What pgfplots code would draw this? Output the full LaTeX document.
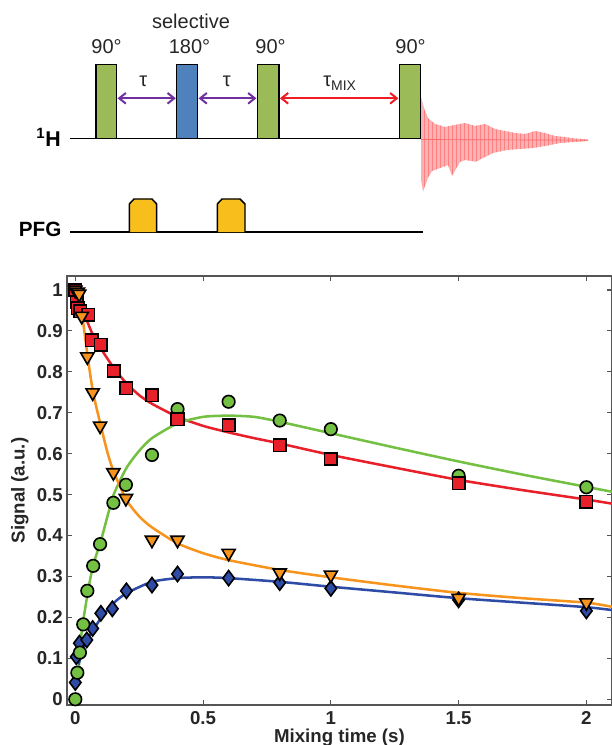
\documentclass[border=0pt]{standalone}
\usepackage{fontspec}
\setmainfont{Liberation Sans}
\usepackage{pgfplots}
\pgfplotsset{compat=1.18}
\usetikzlibrary{arrows.meta,patterns}

\definecolor{pgreen}{HTML}{9BBB59}
\definecolor{pblue}{HTML}{4F81BD}
\definecolor{pgold}{HTML}{F8BE1C}
\definecolor{ppurple}{HTML}{7030A0}
\definecolor{pred}{HTML}{EE1C25}
\definecolor{fid}{HTML}{F4A0A0}
\definecolor{cred}{HTML}{E8202A}
\definecolor{cgreen}{HTML}{74C043}
\definecolor{corange}{HTML}{F7941D}
\definecolor{cblue}{HTML}{2E4BA5}
\definecolor{axgray}{HTML}{555555}

\begin{document}
\begin{tikzpicture}
\useasboundingbox (0,0) rectangle (458.25pt,-558.75pt);

% pulse sequence, drawn in pixel units of the reference
\begin{scope}[x=0.75pt,y=-0.75pt]
  % FID
  \path[fill=fid, fill opacity=0.8, postaction={pattern=vertical lines, pattern color=red!50}]
    (421,97) -- (424,108) -- (428,118) -- (435,124) -- (445,127) -- (455,125) -- (465,123)
    -- (475,126) -- (485,124) -- (495,129) -- (505,131) -- (515,133) -- (525,134) -- (535,131)
    -- (545,133) -- (555,136) -- (565,137) -- (575,138.5) -- (588,139.5)
    -- (588,141) -- (575,142) -- (560,143) -- (545,146) -- (533,148) -- (520,149) -- (507,150)
    -- (493,153) -- (485,157) -- (476,161.7) -- (465,160) -- (460,162) -- (452,176) -- (448,165)
    -- (440,168) -- (432,171) -- (428,178) -- (423,191.7) -- (421,180) -- cycle;
  \draw[red!60, line width=0.5pt] (421,139.5) -- (588,140.2);
  % base lines
  \draw[line width=1.3pt] (70,138.5) -- (421,138.5);
  \draw[line width=1.3pt] (70,232) -- (422.7,232);
  % RF pulses
  \filldraw[fill=pgreen, line width=1.1pt] (96,64.3) rectangle (116.7,138.5);
  \filldraw[fill=pblue, line width=1.1pt] (176.7,64.3) rectangle (197.7,138.5);
  \filldraw[fill=pgreen, line width=1.1pt] (257.3,64.3) rectangle (279,138.5);
  \filldraw[fill=pgreen, line width=1.1pt] (399.3,64.3) rectangle (420.7,138.5);
  % gradient pulses
  \filldraw[fill=pgold, line width=1.1pt] (129.3,232) -- (129.3,204) -- (134,199) -- (152,199) -- (156.7,204) -- (156.7,232);
  \filldraw[fill=pgold, line width=1.1pt] (217.3,232) -- (217.3,204) -- (222,199) -- (240,199) -- (245,204) -- (245,232);
  % delays
  \draw[ppurple, line width=1.5pt, {Straight Barb[length=5pt,width=8pt]}-{Straight Barb[length=5pt,width=8pt]}] (117.6,98.3) -- (175.8,98.3);
  \draw[ppurple, line width=1.5pt, {Straight Barb[length=5pt,width=8pt]}-{Straight Barb[length=5pt,width=8pt]}] (198.6,98.3) -- (256.4,98.3);
  \draw[pred, line width=1.5pt, {Straight Barb[length=5pt,width=8pt]}-{Straight Barb[length=5pt,width=8pt]}] (279.9,98.3) -- (398.4,98.3);
  % labels
  \begin{scope}[every node/.style={font=\fontsize{15}{17}\selectfont, text=black!85, inner sep=0pt}]
    \node[anchor=base] at (106.6,53.3) {90°};
    \node[anchor=base] at (189.5,53.3) {180°};
    \node[anchor=base] at (270.5,53.3) {90°};
    \node[anchor=base] at (410.5,53.3) {90°};
    \node[anchor=base] at (191,28.3) {selective};
    \node[anchor=base] at (143.3,87) {τ};
    \node[anchor=base] at (226.7,87) {τ};
    \node[anchor=base] at (340,87) {τ\textsubscript{MIX}};
  \end{scope}
  \node[anchor=base east, inner sep=0pt, font=\bfseries\fontsize{16}{18}\selectfont] at (61,146.7) {\textsuperscript{1}H};
  \node[anchor=base east, inner sep=0pt, font=\bfseries\fontsize{15.5}{18}\selectfont] at (61.7,236.7) {PFG};
\end{scope}

\begin{axis}[
  at={(50.25pt,-528.75pt)}, anchor=south west,
  width=408.7pt, height=321.7pt, scale only axis,
  xmin=-0.0325, xmax=2.1, ymin=-0.014, ymax=1.034,
  xtick={0,0.5,1,1.5,2},
  ytick={0,0.1,0.2,0.3,0.4,0.5,0.6,0.7,0.8,0.9,1},
  tick align=inside, major tick length=3.75pt,
  axis line style={axgray, line width=0.9pt},
  tick style={axgray, line width=0.8pt},
  /pgf/number format/assume math mode=true,
  ticklabel style={font=\bfseries\fontsize{14}{16}\selectfont, text=black!85},
  yticklabel style={anchor=east, inner sep=0pt, xshift=-3pt},
  xticklabel style={anchor=north, inner sep=0pt, yshift=-4.5pt},
  xlabel={Mixing time (s)}, ylabel={Signal (a.u.)},
  label style={font=\bfseries\fontsize{14}{16}\selectfont, text=black!85, inner sep=0pt},
  xlabel style={at={(axis description cs:0.5,-0.088)}, anchor=base},
  ylabel style={at={(axis description cs:-0.0864,0.5)}, anchor=center},
  clip=false,
]
% fitted curves
\addplot[cred, line width=1.9pt, smooth, tension=0.4] coordinates {
  (0.015,0.985) (0.03,0.952) (0.05,0.918) (0.07,0.889) (0.1,0.857) (0.15,0.81)
  (0.2,0.772) (0.25,0.743) (0.3,0.722) (0.4,0.690) (0.5,0.668) (0.6,0.652)
  (0.7,0.638) (0.8,0.625) (1.0,0.597) (1.25,0.566) (1.5,0.536) (1.75,0.511)
  (2.0,0.488) (2.1,0.478)};
\addplot[cgreen, line width=1.9pt, smooth, tension=0.4] coordinates {
  (0.012,0.063) (0.025,0.165) (0.05,0.265) (0.07,0.328) (0.1,0.387) (0.125,0.445)
  (0.15,0.50) (0.2,0.565) (0.25,0.607) (0.3,0.638) (0.4,0.674) (0.5,0.690)
  (0.6,0.693) (0.7,0.690) (0.8,0.678) (1.0,0.650) (1.25,0.615) (1.5,0.581)
  (1.75,0.549) (2.0,0.519) (2.1,0.507)};
\addplot[corange, line width=1.9pt, smooth, tension=0.4] coordinates {
  (0.01,0.995) (0.02,0.975) (0.03,0.925) (0.05,0.83) (0.07,0.748) (0.1,0.668)
  (0.125,0.605) (0.15,0.556) (0.2,0.487) (0.25,0.447) (0.3,0.42) (0.4,0.381)
  (0.5,0.357) (0.6,0.340) (0.8,0.316) (1.0,0.298) (1.25,0.278) (1.5,0.260)
  (1.75,0.247) (2.0,0.236) (2.1,0.226)};
\addplot[cblue, line width=1.9pt, smooth, tension=0.4] coordinates {
  (0.012,0.085) (0.02,0.10) (0.03,0.123) (0.05,0.15) (0.07,0.169) (0.1,0.198)
  (0.15,0.235) (0.2,0.259) (0.3,0.287) (0.4,0.296) (0.5,0.298) (0.6,0.296)
  (0.8,0.287) (1.0,0.275) (1.25,0.261) (1.5,0.247) (1.75,0.236) (2.0,0.225)
  (2.1,0.218)};
% measured points
\addplot[only marks, mark=diamond*, mark size=5.7pt,
  mark options={fill=cblue, draw=black, line width=1.2pt}] coordinates {
  (0,0.041) (0.004,0.104) (0.016,0.137) (0.045,0.145) (0.068,0.173) (0.1,0.21)
  (0.145,0.221) (0.2,0.265) (0.3,0.279) (0.4,0.306) (0.6,0.296) (0.8,0.285)
  (1,0.271) (1.5,0.243) (2,0.216)};
\addplot[only marks, mark=*, mark size=4.7pt,
  mark options={fill=cgreen, draw=black, line width=1.2pt}] coordinates {
  (0,0.0) (0.008,0.065) (0.018,0.114) (0.031,0.183) (0.047,0.265) (0.07,0.326)
  (0.097,0.379) (0.149,0.48) (0.198,0.524) (0.3,0.597) (0.4,0.709) (0.6,0.727)
  (0.8,0.681) (1,0.66) (1.5,0.546) (2,0.518)};
\addplot[only marks, mark=square*, mark size=4.7pt,
  mark options={fill=cred, draw=black, line width=1.2pt}] coordinates {
  (0,1.0) (0.005,0.97) (0.01,0.955) (0.02,0.948) (0.05,0.939) (0.065,0.877)
  (0.1,0.866) (0.15,0.802) (0.2,0.76) (0.3,0.743) (0.4,0.684) (0.6,0.67)
  (0.8,0.621) (1,0.587) (1.5,0.528) (2,0.483)};
\addplot[only marks, mark=triangle*, mark size=5.7pt,
  mark options={rotate=180, fill=corange, draw=black, line width=1.2pt}] coordinates {
  (0,1.0) (0.01,0.995) (0.015,0.99) (0.025,0.936) (0.047,0.837) (0.068,0.749)
  (0.097,0.668) (0.149,0.554) (0.198,0.491) (0.3,0.389) (0.4,0.389) (0.6,0.357)
  (0.8,0.309) (1,0.304) (1.5,0.247) (2,0.236)};
\end{axis}
\end{tikzpicture}
\end{document}
